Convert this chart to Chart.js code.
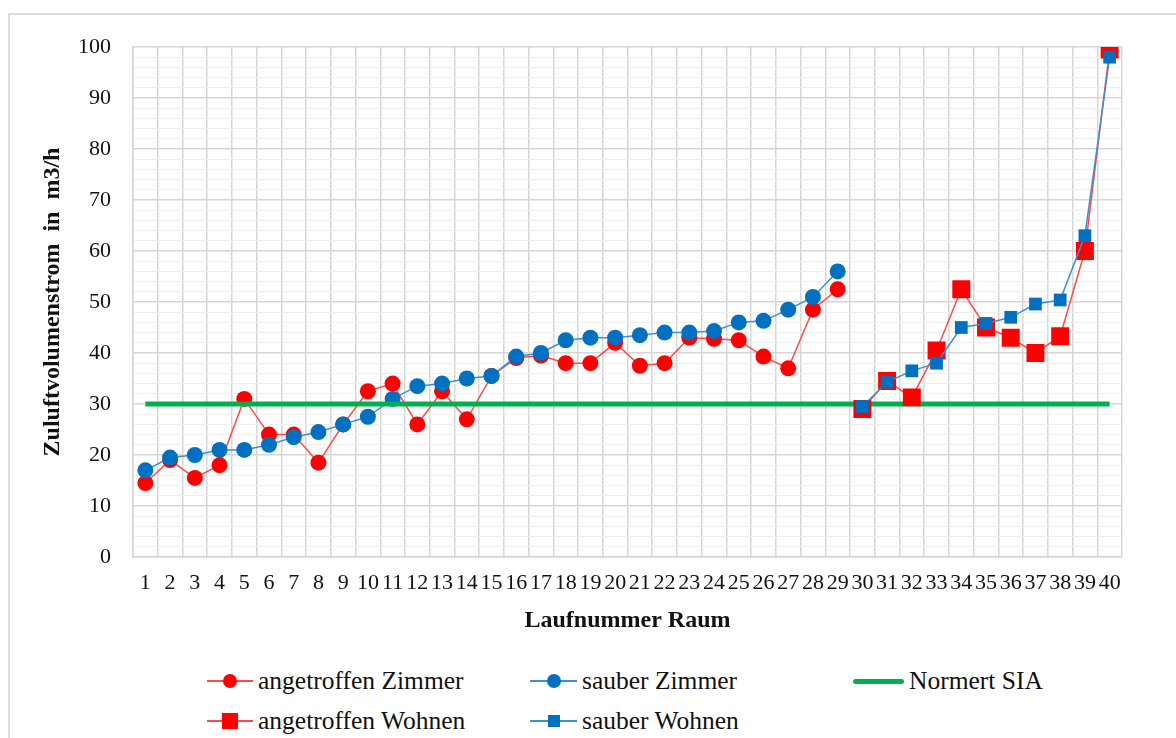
<!DOCTYPE html>
<html>
<head>
<meta charset="utf-8">
<script src="https://cdn.jsdelivr.net/npm/chart.js@4/dist/chart.umd.min.js"></script>
<style>
  body { margin: 0; background: #fff; font-family: "Liberation Serif", "Times New Roman", serif; }
  #wrap { position: relative; width: 1176px; height: 738px; overflow: hidden; }
  #frame { position: absolute; left: 8px; top: 13px; width: 1300px; height: 800px;
           border-left: 2px solid #dcdcdc; border-top: 2px solid #dcdcdc; }
  #chartBox { position: absolute; left: 0; top: 0; width: 1176px; height: 640px; }
  .leg { position: absolute; height: 30px; display: flex; align-items: center;
         font-size: 25.5px; color: #111; white-space: nowrap; }
  .sym { position: relative; height: 30px; margin-right: 5px; }
  .sym .ln { position: absolute; left: 0; right: 0; top: 50%; }
  .sym .mk { position: absolute; top: 50%; left: 50%; transform: translate(-50%, -50%); }
</style>
</head>
<body>
<div id="wrap">
  <div id="frame"></div>
  <div id="chartBox"><canvas id="myChart" width="1176" height="640"></canvas></div>
  <div id="legend"></div>
</div>
<script>
// 標籤：房間編號
const laufnummer = ['1','2','3','4','5','6','7','8','9','10','11','12','13','14','15','16','17','18','19','20',
                    '21','22','23','24','25','26','27','28','29','30','31','32','33','34','35','36','37','38','39','40'];

// 房間 1–29（Zimmer）
const zimmerAngetroffen = [14.5, 19, 15.5, 18, 31, 24, 24, 18.5, 26, 32.5, 34, 26, 32.5, 27, 35.5, 39, 39.5, 38, 38, 42,
                           37.5, 38, 43, 42.8, 42.5, 39.3, 37, 48.5, 52.5];
const zimmerSauber = [17, 19.5, 20, 21, 21, 22, 23.5, 24.5, 26, 27.5, 31, 33.5, 34, 35, 35.5, 39.3, 40, 42.5, 43, 43,
                      43.5, 44, 44, 44.3, 46, 46.3, 48.5, 51, 56];

// 房間 30–40（Wohnen）
const wohnenAngetroffen = [29, 34.5, 31.3, 40.5, 52.5, 45, 43, 40, 43.3, 60, 99.5];
const wohnenSauber = [29.5, 34.3, 36.5, 38, 45, 45.8, 47, 49.6, 50.4, 63, 98];

// SIA 標準值
const normSia = 30;

const ROT = '#ff0000', ROT_LINIE = '#ff4a4a';
const BLAU = '#0070c0', BLAU_LINIE = '#3b8fd4';
const GRUEN = '#00b050';
const FONT = '"Liberation Serif", "Times New Roman", serif';

function punkte(werte, start) {
    return werte.map((v, i) => ({ x: laufnummer[start + i], y: v }));
}

const datasets = [
    { label: 'angetroffen Zimmer', data: punkte(zimmerAngetroffen, 0), borderColor: ROT_LINIE, backgroundColor: ROT,
      pointBorderColor: ROT, pointStyle: 'circle', pointRadius: 8, borderWidth: 1.5, order: 5, legCol: 0, legRow: 0, legSize: 14 },
    { label: 'sauber Zimmer', data: punkte(zimmerSauber, 0), borderColor: BLAU_LINIE, backgroundColor: BLAU,
      pointBorderColor: BLAU, pointStyle: 'circle', pointRadius: 8, borderWidth: 1.5, order: 4, legCol: 1, legRow: 0, legSize: 14 },
    { label: 'Normert SIA', data: [{ x: '1', y: normSia }, { x: '40', y: normSia }], borderColor: GRUEN, backgroundColor: GRUEN,
      pointRadius: 0, borderWidth: 5, order: 3, legCol: 2, legRow: 0, legSize: 0 },
    { label: 'angetroffen Wohnen', data: punkte(wohnenAngetroffen, 29), borderColor: ROT_LINIE, backgroundColor: ROT,
      pointBorderColor: ROT, pointStyle: 'rect', pointRadius: 12.7, borderWidth: 1.5, order: 2, legCol: 0, legRow: 1, legSize: 16 },
    { label: 'sauber Wohnen', data: punkte(wohnenSauber, 29), borderColor: BLAU_LINIE, backgroundColor: BLAU,
      pointBorderColor: BLAU, pointStyle: 'rect', pointRadius: 9, borderWidth: 1.5, order: 1, legCol: 1, legRow: 1, legSize: 12 }
];

datasets.forEach(d => { d.pointHoverRadius = d.pointRadius; d.pointBorderWidth = 0; d.tension = 0; d.fill = false; });

const ctx = document.getElementById('myChart').getContext('2d');
const myChart = new Chart(ctx, {
    type: 'line',
    data: { labels: laufnummer, datasets: datasets },
    options: {
        responsive: false,
        animation: false,
        layout: { padding: { left: 20, right: 54, top: 47, bottom: 0 } },
        plugins: { legend: { display: false }, tooltip: { enabled: false } },
        scales: {
            x: {
                type: 'category',
                offset: true,
                grid: { offset: true, color: '#d6d6d6', lineWidth: 1.5, drawTicks: false },
                border: { display: true, color: '#d6d6d6', width: 1.5 },
                ticks: { autoSkip: false, maxRotation: 0, padding: 13, color: '#111', font: { family: FONT, size: 22 } },
                title: { display: true, text: 'Laufnummer Raum', color: '#111',
                         font: { family: FONT, size: 24, weight: 'bold' }, padding: { top: 0, bottom: 5 } },
                afterFit: s => { s.height = 83; }
            },
            y: {
                min: 0,
                max: 100,
                grid: {
                    drawTicks: false,
                    color: c => (c.tick && c.tick.value % 10 === 0) ? '#d6d6d6' : '#efefef',
                    lineWidth: c => (c.tick && c.tick.value % 10 === 0) ? 1.5 : 1
                },
                border: { display: true, color: '#d6d6d6', width: 1.5 },
                ticks: {
                    stepSize: 2,
                    autoSkip: false,
                    padding: 22,
                    color: '#111',
                    font: { family: FONT, size: 22 },
                    callback: v => (v % 10 === 0 ? v : '')
                },
                title: { display: true, text: 'Zuluftvolumenstrom  in  m3/h', color: '#111',
                         font: { family: FONT, size: 24, weight: 'bold' }, padding: { top: 18, bottom: 0 } },
                afterFit: s => { s.width = 113; }
            }
        }
    }
});

// 圖例（HTML）：三欄兩列
const legCols = [{ left: 207, w: 46 }, { left: 530, w: 47 }, { left: 853, w: 51 }];
const legRows = [681, 721];
const legend = document.getElementById('legend');
myChart.data.datasets.forEach(ds => {
    const col = legCols[ds.legCol];
    const item = document.createElement('div');
    item.className = 'leg';
    item.style.left = col.left + 'px';
    item.style.top = (legRows[ds.legRow] - 15) + 'px';
    const sym = document.createElement('div');
    sym.className = 'sym';
    sym.style.width = col.w + 'px';
    const ln = document.createElement('div');
    ln.className = 'ln';
    ln.style.height = ds.borderWidth + 'px';
    ln.style.marginTop = (-ds.borderWidth / 2) + 'px';
    ln.style.background = ds.borderColor;
    if (ds.borderWidth > 3) ln.style.borderRadius = '3px';
    sym.appendChild(ln);
    if (ds.legSize) {
        const mk = document.createElement('div');
        mk.className = 'mk';
        mk.style.width = ds.legSize + 'px';
        mk.style.height = ds.legSize + 'px';
        mk.style.background = ds.backgroundColor;
        if (ds.pointStyle === 'circle') mk.style.borderRadius = '50%';
        sym.appendChild(mk);
    }
    item.appendChild(sym);
    const txt = document.createElement('span');
    txt.textContent = ds.label;
    item.appendChild(txt);
    legend.appendChild(item);
});
</script>
</body>
</html>
